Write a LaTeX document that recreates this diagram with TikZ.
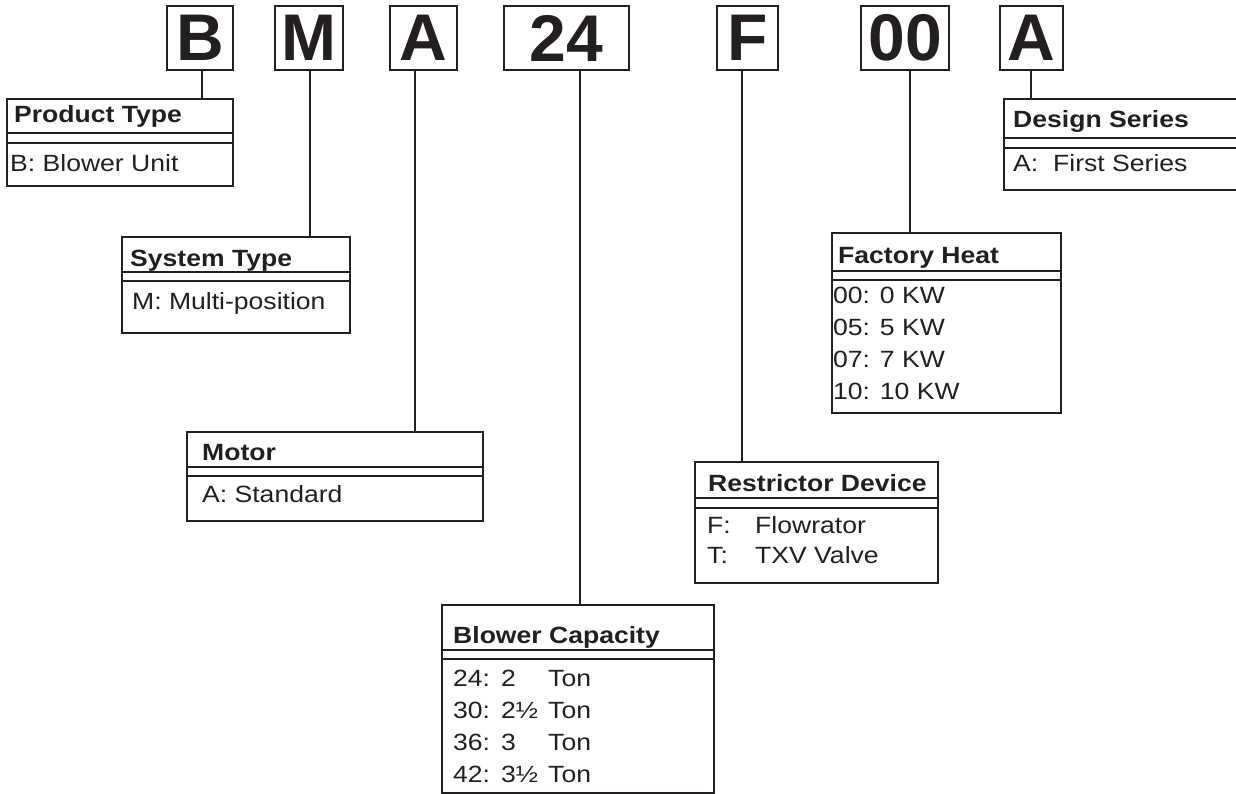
\documentclass[tikz,border=0pt]{standalone}
\usepackage{fontspec}
\setmainfont{Liberation Sans}
\newfontfamily\lblfont[FakeStretch=1.13]{Liberation Sans}
\newfontfamily\keyfont{Liberation Sans}
\usetikzlibrary{calc}
\definecolor{ink}{HTML}{231F20}
\begin{document}
\begin{tikzpicture}[x=1pt,y=-1pt,
 keybox/.style={draw=ink, line width=2pt, minimum height=64pt, inner sep=0pt, outer sep=0pt, text=ink, font=\keyfont\fontsize{66}{66}\selectfont\bfseries},
 dbox/.style={draw=ink, line width=2pt, anchor=north west, inner sep=0pt, outer sep=0pt},
 sepline/.style={draw=ink, line width=1.3pt},
 conn/.style={draw=ink, line width=2pt},
 hd/.style={anchor=base west, inner sep=0pt, text=ink, font=\lblfont\fontsize{23.5}{28}\selectfont\bfseries},
 bd/.style={anchor=base west, inner sep=0pt, text=ink, font=\lblfont\fontsize{23.5}{28}\selectfont},
]
\useasboundingbox (0,0) rectangle (1236,794);
\clip (0,0) rectangle (1236,794);

% key boxes
\node[keybox, minimum width=66pt] (kB) at (200,38) {B};
\node[keybox, minimum width=68pt] (kM) at (309,38) {M};
\node[keybox, minimum width=67pt] (kA) at (423.5,38) {A};
\node[keybox, minimum width=125pt] (k24) at (566.5,38) {24};
\node[keybox, minimum width=61pt] (kF) at (747.5,38) {F};
\node[keybox, minimum width=88pt] (k00) at (905,38) {00};
\node[keybox, minimum width=63pt] (kA2) at (1031.5,38) {A};

% description boxes
\node[dbox, minimum width=226pt, minimum height=87pt] (dP) at (7,99) {};
\node[dbox, minimum width=228pt, minimum height=96pt] (dS) at (122,237) {};
\node[dbox, minimum width=296pt, minimum height=89pt] (dM) at (187,432) {};
\node[dbox, minimum width=272pt, minimum height=188pt] (dC) at (442,605) {};
\node[dbox, minimum width=243pt, minimum height=121pt] (dR) at (695,462) {};
\node[dbox, minimum width=229pt, minimum height=180pt] (dF) at (832,233) {};
\node[dbox, minimum width=260pt, minimum height=91pt] (dD) at (1004,99) {};

% separators (double line under header)
\foreach \n/\a/\b in {dP/34/44, dS/35/44, dM/35/44, dC/45/54, dR/36/46, dF/38/47, dD/39/49}{
  \draw[sepline] ($(\n.north west)+(0,\a)$) -- ($(\n.north east)+(0,\a)$);
  \draw[sepline] ($(\n.north west)+(0,\b)$) -- ($(\n.north east)+(0,\b)$);
}

% connectors
\coordinate (cB) at ($(kB.south)+(2,0)$);
\coordinate (cM) at ($(kM.south)+(1,0)$);
\coordinate (cA) at ($(kA.south)+(-8.5,0)$);
\coordinate (c24) at ($(k24.south)+(13.5,0)$);
\coordinate (cF) at ($(kF.south)+(-5.5,0)$);
\coordinate (c00) at ($(k00.south)+(5,0)$);
\coordinate (cA2) at ($(kA2.south)+(-0.5,0)$);
\draw[conn] (cB) -- (cB |- dP.north);
\draw[conn] (cM) -- (cM |- dS.north);
\draw[conn] (cA) -- (cA |- dM.north);
\draw[conn] (c24) -- (c24 |- dC.north);
\draw[conn] (cF) -- (cF |- dR.north);
\draw[conn] (c00) -- (c00 |- dF.north);
\draw[conn] (cA2) -- (cA2 |- dD.north);

% texts
\node[hd] (hP) at (14,123) {Product Type};
\node[bd] (bP) at (10,172) {B: Blower Unit};

\node[hd] (hS) at (130,266) {System Type};
\node[bd] (bS) at (132,309) {M: Multi-position};

\node[hd] (hM) at (202,460) {Motor};
\node[bd] (bM) at (202,502) {A: Standard};

\node[hd] (hC) at (453,643) {Blower Capacity};
\node[bd] (bC1a) at (453,686) {24:};
\node[bd] (bC1b) at (501,686) {2};
\node[bd] (bC1c) at (548,686) {Ton};
\node[bd] (bC2a) at (453,718) {30:};
\node[bd] (bC2b) at (501,718) {2½};
\node[bd] (bC2c) at (548,718) {Ton};
\node[bd] (bC3a) at (453,750) {36:};
\node[bd] (bC3b) at (501,750) {3};
\node[bd] (bC3c) at (548,750) {Ton};
\node[bd] (bC4a) at (453,782) {42:};
\node[bd] (bC4b) at (501,782) {3½};
\node[bd] (bC4c) at (548,782) {Ton};

\node[hd] (hR) at (708,491) {Restrictor Device};
\node[bd] (bR1a) at (707,533) {F:};
\node[bd] (bR1b) at (755,533) {Flowrator};
\node[bd] (bR2a) at (707,563) {T:};
\node[bd] (bR2b) at (755,563) {TXV Valve};

\node[hd] (hF) at (838,263) {Factory Heat};
\node[bd] (bF1) at (833,303) {00: 0 KW};
\node[bd] (bF2) at (833,335) {05: 5 KW};
\node[bd] (bF3) at (833,367) {07: 7 KW};
\node[bd] (bF4) at (833,399) {10: 10 KW};

\node[hd] (hD) at (1013,128) {Design Series};
\node[bd] (bD1) at (1013,172) {A:};
\node[bd] (bD2) at (1053,172) {First Series};
\end{tikzpicture}
\end{document}
